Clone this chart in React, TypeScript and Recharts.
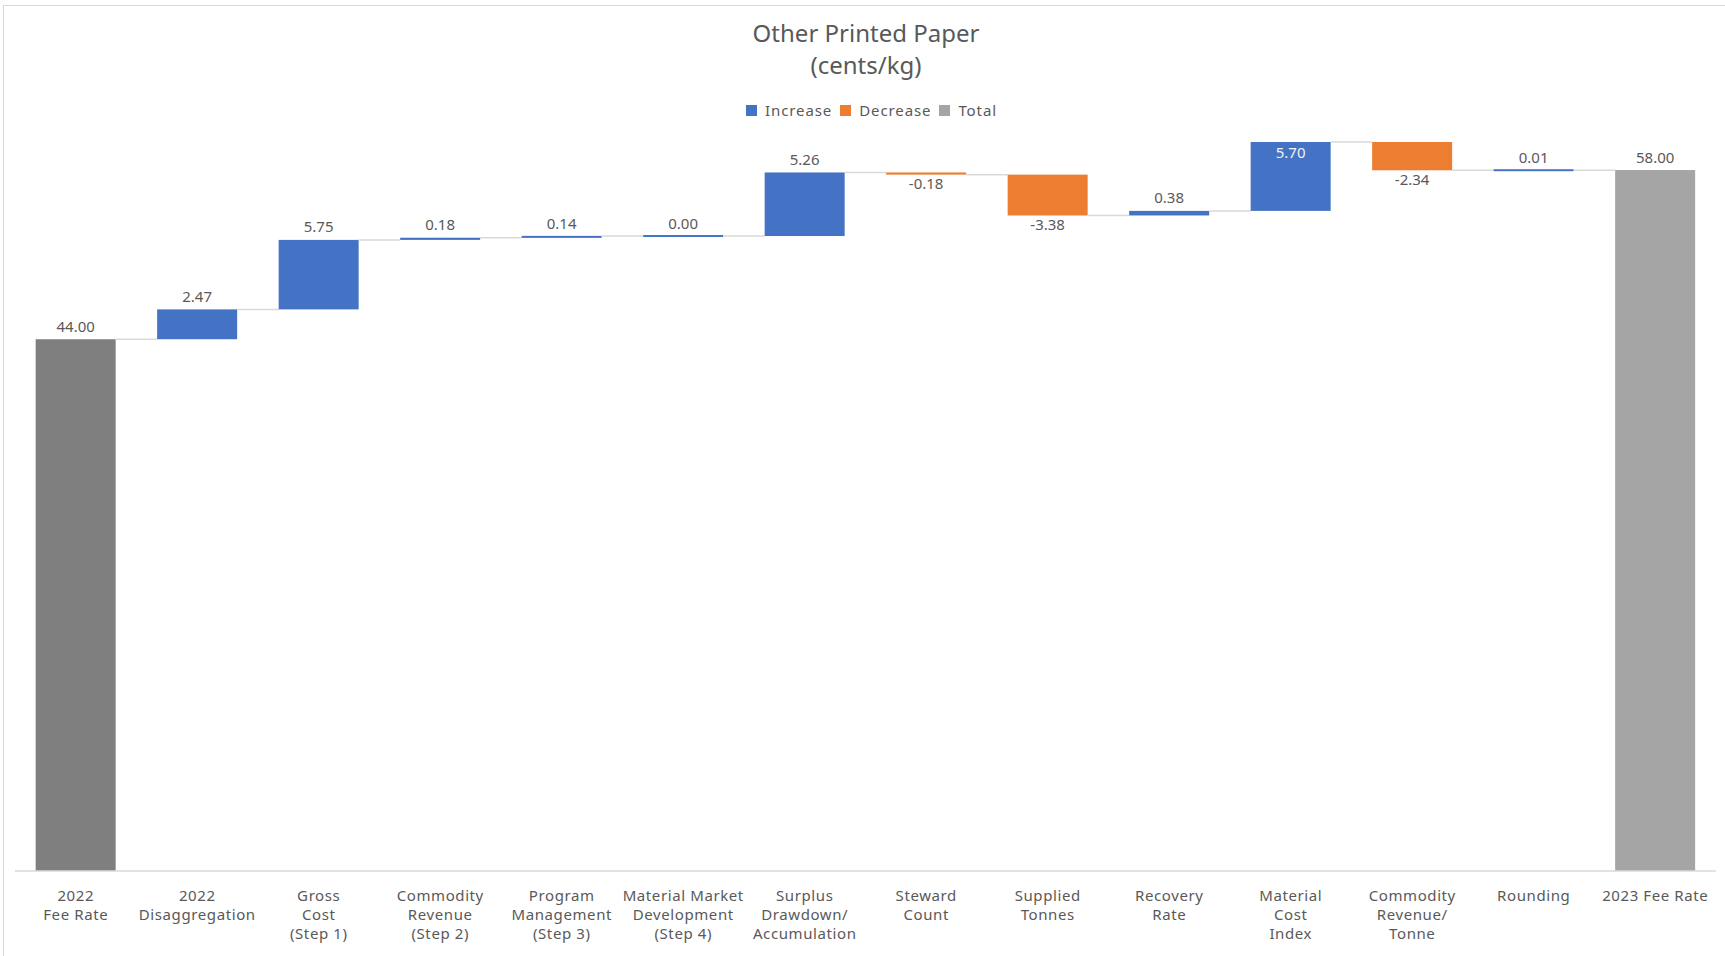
import { Bar, BarChart, XAxis, YAxis } from 'recharts';

const categories = [
  '2022\nFee Rate',
  '2022\nDisaggregation',
  'Gross\nCost\n(Step 1)',
  'Commodity\nRevenue\n(Step 2)',
  'Program\nManagement\n(Step 3)',
  'Material Market\nDevelopment\n(Step 4)',
  'Surplus\nDrawdown/\nAccumulation',
  'Steward\nCount',
  'Supplied\nTonnes',
  'Recovery\nRate',
  'Material\nCost\nIndex',
  'Commodity\nRevenue/\nTonne',
  'Rounding',
  '2023 Fee Rate',
];

const changes = [44.0, 2.47, 5.75, 0.18, 0.14, 0.0, 5.26, -0.18, -3.38, 0.38, 5.7, -2.34, 0.01, 58.0];

const isTotal = [true, false, false, false, false, false, false, false, false, false, false, false, false, true];

const legendItems = ['Increase', 'Decrease', 'Total'];

const W = 1725;
const H = 956;
const margin = { top: 142, right: 9, bottom: 0, left: 15 };
const FONT = '"Noto Sans", sans-serif';
const TEXT = '#595959';
const BLUE = '#4472C4';
const ORANGE = '#ED7D31';
const GRAY = '#A5A5A5';
const DARK_GRAY = '#7F7F7F';
const LINE = '#D9D9D9';

// running totals -> invisible base + visible part
let running = 0;
const rows = categories.map((name, i) => {
  const d = changes[i];
  if (isTotal[i]) {
    running = d;
    return { name, base: 0, size: d, delta: d, kind: 'total' };
  }
  const prev = running;
  running = prev + d;
  return {
    name,
    base: Math.min(prev, running),
    size: Math.abs(d),
    delta: d,
    kind: d < 0 ? 'dec' : 'inc',
  };
});
const peak = Math.max(...rows.map(r => r.base + r.size));

const colorFor = (kind: string, i: number) => {
  if (kind === 'inc') return BLUE;
  if (kind === 'dec') return ORANGE;
  return i === 0 ? DARK_GRAY : GRAY;
};

const WaterfallBar = (props: any) => {
  const { x, y, width, height, index } = props;
  const r = rows[index];
  const band = (W - margin.left - margin.right) / rows.length;
  const gap = band - width;
  const h = Math.max(height, 2);
  const top = height < 2 ? y + height / 2 - 1 : y;
  const endY = r.kind === 'dec' ? y + height : y;
  const cx = x + width / 2;

  let ty = y - 13;
  let labelFill = TEXT;
  if (r.kind === 'dec') {
    ty = y + height + 9;
  } else if (Math.abs(r.base + r.size - peak) < 1e-9) {
    ty = y + 10;
    labelFill = '#F2F2F2';
  }

  return (
    <g>
      <rect x={x} y={top} width={width} height={h} fill={colorFor(r.kind, index)} />
      {index < rows.length - 1 && (
        <line
          x1={x + width}
          x2={x + width + gap}
          y1={endY}
          y2={endY}
          stroke={LINE}
          strokeWidth={1.5}
        />
      )}
      <text
        x={cx}
        y={ty + 5.5}
        textAnchor="middle"
        fill={labelFill}
        fontSize={15}
        fontFamily={FONT}
      >
        {r.delta.toFixed(2)}
      </text>
    </g>
  );
};

const CategoryTick = (props: any) => {
  const { x, y, payload } = props;
  const lines = String(payload.value).split('\n');
  return (
    <text
      x={x}
      y={y}
      textAnchor="middle"
      fill={TEXT}
      fontSize={15}
      fontFamily={FONT}
      letterSpacing={0.6}
    >
      {lines.map((l, i) => (
        <tspan key={i} x={x} dy={i === 0 ? 29.5 : 19}>
          {l}
        </tspan>
      ))}
    </text>
  );
};

const legendColors = [BLUE, ORANGE, GRAY];

export default function App() {
  return (
    <div
      style={{
        position: 'absolute',
        left: 0,
        top: 0,
        width: W,
        height: H,
        overflow: 'hidden',
        background: '#fff',
        fontFamily: FONT,
      }}
    >
      <div
        style={{
          position: 'absolute',
          left: 3,
          top: 5,
          width: W + 20,
          height: H + 20,
          border: `1px solid ${LINE}`,
        }}
      />
      <div
        style={{
          position: 'absolute',
          left: 0,
          top: 17,
          width: 1732,
          textAlign: 'center',
          fontSize: 24,
          lineHeight: '32px',
          color: TEXT,
        }}
      >
        Other Printed Paper
        <br />
        (cents/kg)
      </div>
      <div
        style={{
          position: 'absolute',
          left: 746,
          top: 102,
          display: 'flex',
          alignItems: 'center',
          fontSize: 15,
          lineHeight: '16px',
          letterSpacing: 0.9,
          color: TEXT,
        }}
      >
        {legendItems.map((label, i) => (
          <div key={label} style={{ display: 'flex', alignItems: 'center', marginRight: 8 }}>
            <span
              style={{
                display: 'inline-block',
                width: 11,
                height: 11,
                background: legendColors[i],
                marginRight: 8,
              }}
            />
            {label}
          </div>
        ))}
      </div>
      <div style={{ position: 'absolute', left: 0, top: 0 }}>
        <BarChart width={W} height={H} data={rows} margin={margin} barCategoryGap="17%">
          <XAxis
            dataKey="name"
            interval={0}
            tickLine={false}
            tickSize={0}
            tickMargin={0}
            height={H - 871}
            axisLine={{ stroke: LINE, strokeWidth: 1.5 }}
            tick={<CategoryTick />}
          />
          <YAxis hide domain={[0, 'dataMax']} />
          <Bar dataKey="base" stackId="w" fill="transparent" isAnimationActive={false} />
          <Bar dataKey="size" stackId="w" isAnimationActive={false} shape={<WaterfallBar />} />
        </BarChart>
      </div>
    </div>
  );
}
